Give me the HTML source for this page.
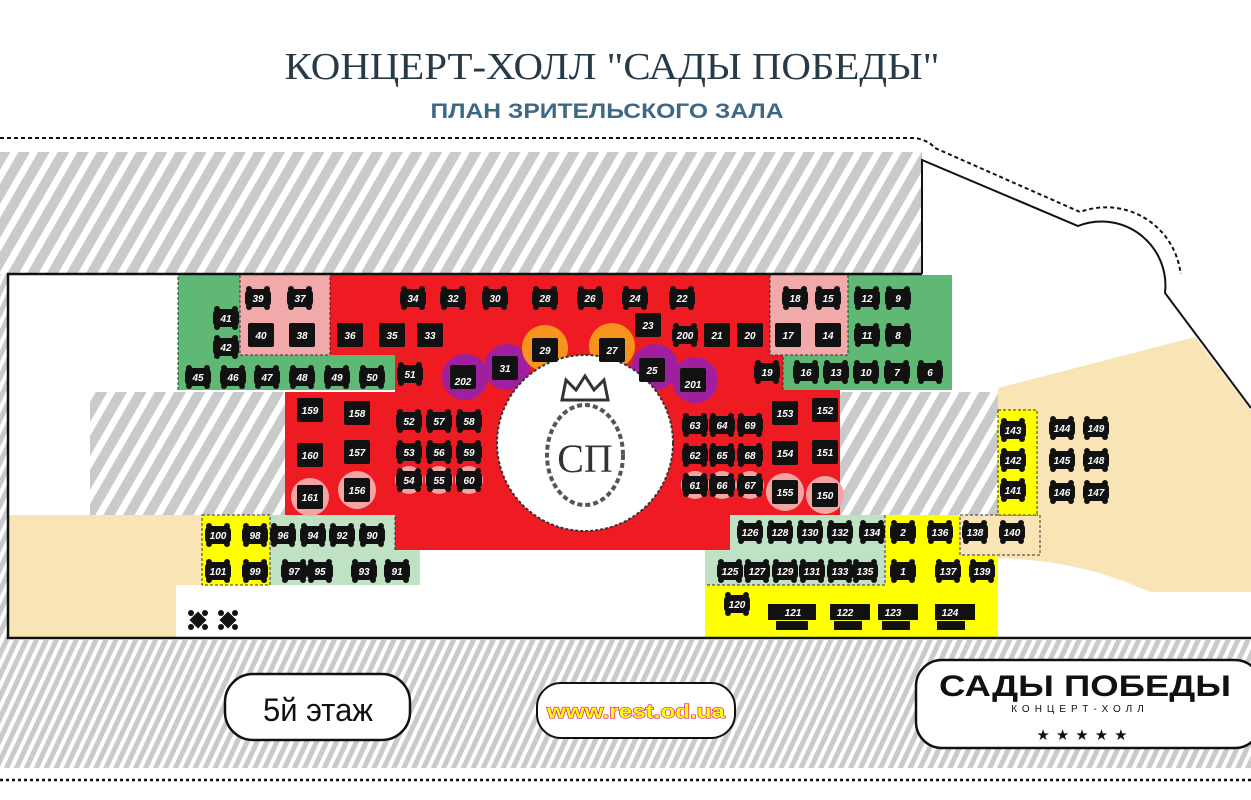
<!DOCTYPE html>
<html><head><meta charset="utf-8"><style>
html,body{margin:0;padding:0;background:#fff;}
svg{display:block}
.t text{font-family:"Liberation Sans",sans-serif;font-weight:bold;font-style:italic;font-size:10px;fill:#fff;text-anchor:middle}
</style></head><body>
<svg width="1251" height="800" viewBox="0 0 1251 800" xmlns="http://www.w3.org/2000/svg">
<defs>
<pattern id="h" width="17" height="17" patternUnits="userSpaceOnUse" patternTransform="rotate(30)">
<rect width="17" height="17" fill="#c9cacb"/><rect width="7" height="17" fill="#fff"/>
</pattern>
<pattern id="h2" width="9" height="9" patternUnits="userSpaceOnUse" patternTransform="rotate(25)">
<rect width="9" height="9" fill="#c9cacb"/><rect width="4" height="9" fill="#fff"/>
</pattern>
<g id="tb"><rect x="-13" y="-9" width="26" height="18" rx="5" fill="#111"/><circle cx="-9" cy="-9" r="3" fill="#111"/><circle cx="9" cy="-9" r="3" fill="#111"/><circle cx="-9" cy="9" r="3" fill="#111"/><circle cx="9" cy="9" r="3" fill="#111"/></g>
<g id="sq"><rect x="-13" y="-12" width="26" height="24" rx="2" fill="#111"/></g>
</defs>

<!-- title -->
<text x="612" y="79" font-family="Liberation Serif,serif" font-size="38" fill="#263a47" text-anchor="middle" textLength="655" lengthAdjust="spacingAndGlyphs">КОНЦЕРТ-ХОЛЛ "САДЫ ПОБЕДЫ"</text>
<text x="607" y="118" font-family="Liberation Sans,sans-serif" font-weight="bold" font-size="21" fill="#3d6985" text-anchor="middle" textLength="353" lengthAdjust="spacingAndGlyphs">ПЛАН ЗРИТЕЛЬСКОГО ЗАЛА</text>

<!-- dotted outline -->
<path d="M0 138 L915 138 Q928 140 935 148 L1080 212 A75 75 0 0 1 1180 295 L1251 385" fill="none" stroke="#111" stroke-width="2" stroke-dasharray="4,3"/>
<line x1="0" y1="780" x2="1251" y2="780" stroke="#111" stroke-width="2.5" stroke-dasharray="3,3"/>

<!-- hatch bands -->
<rect x="0" y="152" width="922" height="122" fill="url(#h)"/>
<rect x="0" y="274" width="8" height="366" fill="url(#h2)"/>
<rect x="0" y="640" width="1251" height="128" fill="url(#h2)"/>

<!-- hall -->
<rect x="8" y="274" width="1243" height="364" fill="#fff"/>
<rect x="90" y="392" width="195" height="123" fill="url(#h)"/>
<rect x="840" y="392" width="158" height="123" fill="url(#h)"/>

<!-- beige -->
<rect x="8" y="515" width="194" height="70" fill="#f9e4b5"/>
<rect x="8" y="585" width="168" height="53" fill="#f9e4b5"/>
<path d="M998 388 L1195 337 L1251 410 L1251 592 L1150 592 Q1080 560 998 558 Z" fill="#f9e4b5"/>

<!-- green left -->
<rect x="178" y="275" width="62" height="115" fill="#5fb873"/>
<rect x="178" y="355" width="217" height="35" fill="#5fb873"/>
<rect x="240" y="275" width="90" height="80" fill="#f2a9a9"/>
<!-- red -->
<path d="M330 275 L770 275 L770 355 L783 355 L783 390 L840 390 L840 515 L730 515 L730 550 L395 550 L395 515 L285 515 L285 392 L395 392 L395 355 L330 355 Z" fill="#ee1c22"/>
<!-- right pink/green -->
<rect x="770" y="275" width="78" height="80" fill="#f2a9a9"/>
<rect x="848" y="275" width="104" height="115" fill="#5fb873"/>
<rect x="783" y="355" width="169" height="35" fill="#5fb873"/>
<!-- light greens -->
<path d="M270 515 L395 515 L395 550 L420 550 L420 585 L270 585 Z" fill="#bfe2c4"/>
<path d="M730 515 L885 515 L885 585 L705 585 L705 550 L730 550 Z" fill="#bfe2c4"/>
<!-- yellows -->
<rect x="202" y="515" width="68" height="70" fill="#ffff00" stroke="#333" stroke-dasharray="3,2"/>
<path d="M885 515 L960 515 L960 555 L998 555 L998 638 L705 638 L705 585 L885 585 Z" fill="#ffff00"/>
<rect x="960" y="515" width="80" height="40" fill="#f9e4b5" stroke="#333" stroke-dasharray="3,2"/>
<rect x="998" y="410" width="39" height="105" fill="#ffff00" stroke="#333" stroke-dasharray="3,2"/>
<g fill="none" stroke="#333" stroke-dasharray="3,2">
<path d="M178 390 L178 275 M240 275 L240 355 L330 355 L330 275"/>
<path d="M770 275 L770 355 L848 355 L848 275 M783 390 L783 355"/>
<path d="M885 515 L885 585 L705 585 M395 550 L395 515"/>
</g>

<!-- circles -->
<g fill="#a01f9e"><circle cx="465" cy="377" r="23"/><circle cx="507" cy="367" r="23"/><circle cx="655" cy="367" r="23"/><circle cx="695" cy="380" r="23"/></g>
<g fill="#f7941d"><circle cx="545" cy="348" r="23"/><circle cx="612" cy="346" r="23"/></g>
<g fill="#f3a5a5"><circle cx="310" cy="497" r="19"/><circle cx="357" cy="490" r="19"/><circle cx="409" cy="480" r="14"/><circle cx="439" cy="480" r="14"/><circle cx="469" cy="480" r="14"/><circle cx="695" cy="485" r="14"/><circle cx="722" cy="485" r="14"/><circle cx="750" cy="485" r="14"/><circle cx="785" cy="492" r="19"/><circle cx="825" cy="495" r="19"/></g>

<!-- central emblem -->
<circle cx="585" cy="443" r="88" fill="#fff" stroke="#333" stroke-width="2" stroke-dasharray="3,2"/>
<path d="M562 400 L566 380 L576 390 L585 376 L594 390 L604 380 L608 400 Z" fill="none" stroke="#333" stroke-width="3"/>
<ellipse cx="585" cy="455" rx="38" ry="50" fill="none" stroke="#555" stroke-width="4" stroke-dasharray="5,3"/>
<text x="585" y="472" font-family="Liberation Serif,serif" font-size="40" fill="#333" text-anchor="middle">СП</text>

<!-- outline -->
<path d="M922 274 L922 160 L1078 226 A64 64 0 0 1 1165 293 L1251 408" fill="none" stroke="#111" stroke-width="2"/>
<path d="M922 274 L8 274 L8 638 L1251 638" fill="none" stroke="#111" stroke-width="2.5"/>

<!-- tables -->
<g class="t">
<use href="#tb" x="258" y="298"/><text x="258" y="302">39</text>
<use href="#tb" x="300" y="298"/><text x="300" y="302">37</text>
<use href="#tb" x="413" y="298"/><text x="413" y="302">34</text>
<use href="#tb" x="453" y="298"/><text x="453" y="302">32</text>
<use href="#tb" x="495" y="298"/><text x="495" y="302">30</text>
<use href="#tb" x="545" y="298"/><text x="545" y="302">28</text>
<use href="#tb" x="590" y="298"/><text x="590" y="302">26</text>
<use href="#tb" x="635" y="298"/><text x="635" y="302">24</text>
<use href="#tb" x="682" y="298"/><text x="682" y="302">22</text>
<use href="#tb" x="795" y="298"/><text x="795" y="302">18</text>
<use href="#tb" x="828" y="298"/><text x="828" y="302">15</text>
<use href="#tb" x="867" y="298"/><text x="867" y="302">12</text>
<use href="#tb" x="898" y="298"/><text x="898" y="302">9</text>

<use href="#tb" x="226" y="318"/><text x="226" y="322">41</text>
<use href="#tb" x="226" y="347"/><text x="226" y="351">42</text>
<use href="#sq" x="261" y="335"/><text x="261" y="339">40</text>
<use href="#sq" x="302" y="335"/><text x="302" y="339">38</text>
<use href="#sq" x="350" y="335"/><text x="350" y="339">36</text>
<use href="#sq" x="392" y="335"/><text x="392" y="339">35</text>
<use href="#sq" x="430" y="335"/><text x="430" y="339">33</text>
<use href="#sq" x="648" y="325"/><text x="648" y="329">23</text>
<use href="#tb" x="685" y="335"/><text x="685" y="339">200</text>
<use href="#sq" x="717" y="335"/><text x="717" y="339">21</text>
<use href="#sq" x="750" y="335"/><text x="750" y="339">20</text>
<use href="#sq" x="788" y="335"/><text x="788" y="339">17</text>
<use href="#sq" x="828" y="335"/><text x="828" y="339">14</text>
<use href="#tb" x="867" y="335"/><text x="867" y="339">11</text>
<use href="#tb" x="898" y="335"/><text x="898" y="339">8</text>

<use href="#tb" x="198" y="377"/><text x="198" y="381">45</text>
<use href="#tb" x="233" y="377"/><text x="233" y="381">46</text>
<use href="#tb" x="267" y="377"/><text x="267" y="381">47</text>
<use href="#tb" x="302" y="377"/><text x="302" y="381">48</text>
<use href="#tb" x="337" y="377"/><text x="337" y="381">49</text>
<use href="#tb" x="372" y="377"/><text x="372" y="381">50</text>
<use href="#tb" x="410" y="374"/><text x="410" y="378">51</text>
<use href="#sq" x="463" y="377"/><text x="463" y="385">202</text>
<use href="#sq" x="505" y="368"/><text x="505" y="372">31</text>
<use href="#sq" x="545" y="350"/><text x="545" y="354">29</text>
<use href="#sq" x="612" y="350"/><text x="612" y="354">27</text>
<use href="#sq" x="652" y="370"/><text x="652" y="374">25</text>
<use href="#sq" x="693" y="380"/><text x="693" y="388">201</text>
<use href="#tb" x="767" y="372"/><text x="767" y="376">19</text>
<use href="#tb" x="806" y="372"/><text x="806" y="376">16</text>
<use href="#tb" x="836" y="372"/><text x="836" y="376">13</text>
<use href="#tb" x="866" y="372"/><text x="866" y="376">10</text>
<use href="#tb" x="897" y="372"/><text x="897" y="376">7</text>
<use href="#tb" x="930" y="372"/><text x="930" y="376">6</text>

<use href="#sq" x="310" y="410"/><text x="310" y="414">159</text>
<use href="#sq" x="357" y="413"/><text x="357" y="417">158</text>
<use href="#tb" x="409" y="421"/><text x="409" y="425">52</text>
<use href="#tb" x="439" y="421"/><text x="439" y="425">57</text>
<use href="#tb" x="469" y="421"/><text x="469" y="425">58</text>
<use href="#sq" x="310" y="455"/><text x="310" y="459">160</text>
<use href="#sq" x="357" y="452"/><text x="357" y="456">157</text>
<use href="#tb" x="409" y="452"/><text x="409" y="456">53</text>
<use href="#tb" x="439" y="452"/><text x="439" y="456">56</text>
<use href="#tb" x="469" y="452"/><text x="469" y="456">59</text>
<use href="#sq" x="310" y="497"/><text x="310" y="501">161</text>
<use href="#sq" x="357" y="490"/><text x="357" y="494">156</text>
<use href="#tb" x="409" y="480"/><text x="409" y="484">54</text>
<use href="#tb" x="439" y="480"/><text x="439" y="484">55</text>
<use href="#tb" x="469" y="480"/><text x="469" y="484">60</text>

<use href="#tb" x="695" y="425"/><text x="695" y="429">63</text>
<use href="#tb" x="722" y="425"/><text x="722" y="429">64</text>
<use href="#tb" x="750" y="425"/><text x="750" y="429">69</text>
<use href="#sq" x="785" y="413"/><text x="785" y="417">153</text>
<use href="#sq" x="825" y="410"/><text x="825" y="414">152</text>
<use href="#tb" x="695" y="455"/><text x="695" y="459">62</text>
<use href="#tb" x="722" y="455"/><text x="722" y="459">65</text>
<use href="#tb" x="750" y="455"/><text x="750" y="459">68</text>
<use href="#sq" x="785" y="453"/><text x="785" y="457">154</text>
<use href="#sq" x="825" y="452"/><text x="825" y="456">151</text>
<use href="#tb" x="695" y="485"/><text x="695" y="489">61</text>
<use href="#tb" x="722" y="485"/><text x="722" y="489">66</text>
<use href="#tb" x="750" y="485"/><text x="750" y="489">67</text>
<use href="#sq" x="785" y="492"/><text x="785" y="496">155</text>
<use href="#sq" x="825" y="495"/><text x="825" y="499">150</text>

<use href="#tb" x="218" y="535"/><text x="218" y="539">100</text>
<use href="#tb" x="255" y="535"/><text x="255" y="539">98</text>
<use href="#tb" x="283" y="535"/><text x="283" y="539">96</text>
<use href="#tb" x="313" y="535"/><text x="313" y="539">94</text>
<use href="#tb" x="342" y="535"/><text x="342" y="539">92</text>
<use href="#tb" x="372" y="535"/><text x="372" y="539">90</text>
<use href="#tb" x="218" y="571"/><text x="218" y="575">101</text>
<use href="#tb" x="255" y="571"/><text x="255" y="575">99</text>
<use href="#tb" x="294" y="571"/><text x="294" y="575">97</text>
<use href="#tb" x="320" y="571"/><text x="320" y="575">95</text>
<use href="#tb" x="364" y="571"/><text x="364" y="575">93</text>
<use href="#tb" x="397" y="571"/><text x="397" y="575">91</text>

<use href="#tb" x="750" y="532"/><text x="750" y="536">126</text>
<use href="#tb" x="780" y="532"/><text x="780" y="536">128</text>
<use href="#tb" x="810" y="532"/><text x="810" y="536">130</text>
<use href="#tb" x="840" y="532"/><text x="840" y="536">132</text>
<use href="#tb" x="872" y="532"/><text x="872" y="536">134</text>
<use href="#tb" x="903" y="532"/><text x="903" y="536">2</text>
<use href="#tb" x="940" y="532"/><text x="940" y="536">136</text>
<use href="#tb" x="975" y="532"/><text x="975" y="536">138</text>
<use href="#tb" x="1012" y="532"/><text x="1012" y="536">140</text>
<use href="#tb" x="730" y="571"/><text x="730" y="575">125</text>
<use href="#tb" x="757" y="571"/><text x="757" y="575">127</text>
<use href="#tb" x="785" y="571"/><text x="785" y="575">129</text>
<use href="#tb" x="812" y="571"/><text x="812" y="575">131</text>
<use href="#tb" x="840" y="571"/><text x="840" y="575">133</text>
<use href="#tb" x="865" y="571"/><text x="865" y="575">135</text>
<use href="#tb" x="903" y="571"/><text x="903" y="575">1</text>
<use href="#tb" x="948" y="571"/><text x="948" y="575">137</text>
<use href="#tb" x="982" y="571"/><text x="982" y="575">139</text>
<use href="#tb" x="737" y="604"/><text x="737" y="608">120</text>
<rect x="768" y="604" width="48" height="16" fill="#111"/><rect x="776" y="621" width="32" height="9" fill="#111"/><text x="793" y="616">121</text>
<rect x="830" y="604" width="40" height="16" fill="#111"/><rect x="834" y="621" width="28" height="9" fill="#111"/><text x="845" y="616">122</text>
<rect x="878" y="604" width="40" height="16" fill="#111"/><rect x="882" y="621" width="28" height="9" fill="#111"/><text x="893" y="616">123</text>
<rect x="935" y="604" width="40" height="16" fill="#111"/><rect x="937" y="621" width="28" height="9" fill="#111"/><text x="950" y="616">124</text>

<use href="#tb" x="1013" y="430"/><text x="1013" y="434">143</text>
<use href="#tb" x="1013" y="460"/><text x="1013" y="464">142</text>
<use href="#tb" x="1013" y="490"/><text x="1013" y="494">141</text>
<use href="#tb" x="1062" y="428"/><text x="1062" y="432">144</text>
<use href="#tb" x="1096" y="428"/><text x="1096" y="432">149</text>
<use href="#tb" x="1062" y="460"/><text x="1062" y="464">145</text>
<use href="#tb" x="1096" y="460"/><text x="1096" y="464">148</text>
<use href="#tb" x="1062" y="492"/><text x="1062" y="496">146</text>
<use href="#tb" x="1096" y="492"/><text x="1096" y="496">147</text>
</g>
<!-- small icons -->
<g fill="#111">
<rect x="192" y="614" width="12" height="12" transform="rotate(45 198 620)"/><circle cx="191" cy="613" r="3"/><circle cx="205" cy="613" r="3"/><circle cx="191" cy="627" r="3"/><circle cx="205" cy="627" r="3"/>
<rect x="222" y="614" width="12" height="12" transform="rotate(45 228 620)"/><circle cx="221" cy="613" r="3"/><circle cx="235" cy="613" r="3"/><circle cx="221" cy="627" r="3"/><circle cx="235" cy="627" r="3"/>
</g>

<!-- bottom boxes -->
<rect x="225" y="674" width="185" height="66" rx="28" fill="#fff" stroke="#111" stroke-width="2.5"/>
<text x="318" y="721" font-family="Liberation Sans,sans-serif" font-size="32" fill="#111" text-anchor="middle" textLength="110" lengthAdjust="spacingAndGlyphs">5й этаж</text>
<rect x="537" y="683" width="198" height="55" rx="24" fill="#fff" stroke="#111" stroke-width="2"/>
<text x="636" y="718" font-family="Liberation Sans,sans-serif" font-weight="bold" font-size="19" fill="#ffff00" stroke="#e0207a" stroke-width="1.2" paint-order="stroke" text-anchor="middle" textLength="178" lengthAdjust="spacingAndGlyphs">www.rest.od.ua</text>
<rect x="916" y="660" width="345" height="88" rx="26" fill="#fff" stroke="#111" stroke-width="2.5"/>
<text x="1085" y="696" font-family="Liberation Sans,sans-serif" font-weight="bold" font-size="30" fill="#111" text-anchor="middle" textLength="292" lengthAdjust="spacingAndGlyphs">САДЫ ПОБЕДЫ</text>
<text x="1080" y="712" font-family="Liberation Sans,sans-serif" font-size="10" fill="#111" text-anchor="middle" letter-spacing="5">КОНЦЕРТ-ХОЛЛ</text>
<text x="1085" y="740" font-family="DejaVu Sans,sans-serif" font-size="15" fill="#111" text-anchor="middle" letter-spacing="6">★★★★★</text>
</svg>
</body></html>
